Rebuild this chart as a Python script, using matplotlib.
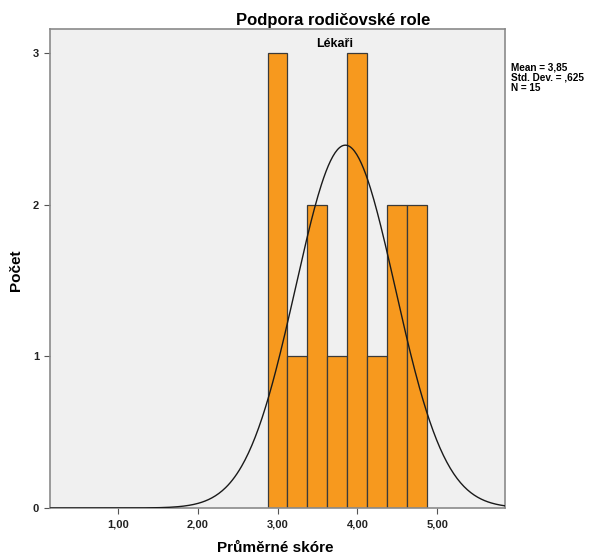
import numpy as np
import matplotlib.pyplot as plt

plt.rcParams['font.family'] = ['Liberation Sans', 'DejaVu Sans']

# histogram data (bin start, counts)
bin_starts = [2.875, 3.125, 3.375, 3.625, 3.875, 4.125, 4.375, 4.625]
counts = [3, 1, 2, 1, 3, 1, 2, 2]
bin_width = 0.25
mean, sd, n = 3.85, 0.625, 15

xticks = [1.0, 2.0, 3.0, 4.0, 5.0]
xtick_labels = ['1,00', '2,00', '3,00', '4,00', '5,00']
yticks = [0, 1, 2, 3]

fig = plt.figure(figsize=(5.98, 5.6), dpi=100)
ax = fig.add_axes([50/598, 52/560, 455/598, 479/560])
ax.set_facecolor('#F0F0F0')

ax.bar(bin_starts, counts, width=bin_width, align='edge',
       color='#F7991E', edgecolor='#3A3A3A', lw=0.9, zorder=2)

xs = np.linspace(0.15, 5.85, 400)
ys = n * bin_width * np.exp(-0.5 * ((xs - mean) / sd) ** 2) / (sd * np.sqrt(2 * np.pi))
ax.plot(xs, ys, color='#1A1A1A', lw=1.0, zorder=3)

ax.set_xlim(0.15, 5.85)
ax.set_ylim(0, 3.16)
ax.set_xticks(xticks)
ax.set_xticklabels(xtick_labels)
ax.set_yticks(yticks)
for lab in ax.get_xticklabels() + ax.get_yticklabels():
    lab.set_fontweight('bold')
    lab.set_fontsize(8)
    lab.set_color('#222222')
ax.tick_params(direction='out', length=4, width=0.8, color='#555555', pad=4)
for s in ax.spines.values():
    s.set_color('#8A8A8A')
    s.set_linewidth(1.2)

# axis labels placed in figure pixels
fig.text(275/598, 1 - 548/560, 'Průměrné skóre', ha='center', va='center',
         fontsize=11, fontweight='bold')
fig.text(16/598, 1 - 270/560, 'Počet', ha='center', va='center', rotation=90,
         fontsize=11, fontweight='bold')

fig.text(333/598, 1 - 20/560, 'Podpora rodičovské role', ha='center', va='center',
         fontsize=12, fontweight='bold')
fig.text(335/598, 1 - 44/560, 'Lékaři', ha='center', va='center',
         fontsize=9, fontweight='bold')
fig.text(511/598, 1 - 62/560, 'Mean = 3,85\nStd. Dev. = ,625\nN = 15', ha='left', va='top',
         fontsize=7.2, fontweight='bold', linespacing=1.05)

fig.savefig('out.png', dpi=100)
